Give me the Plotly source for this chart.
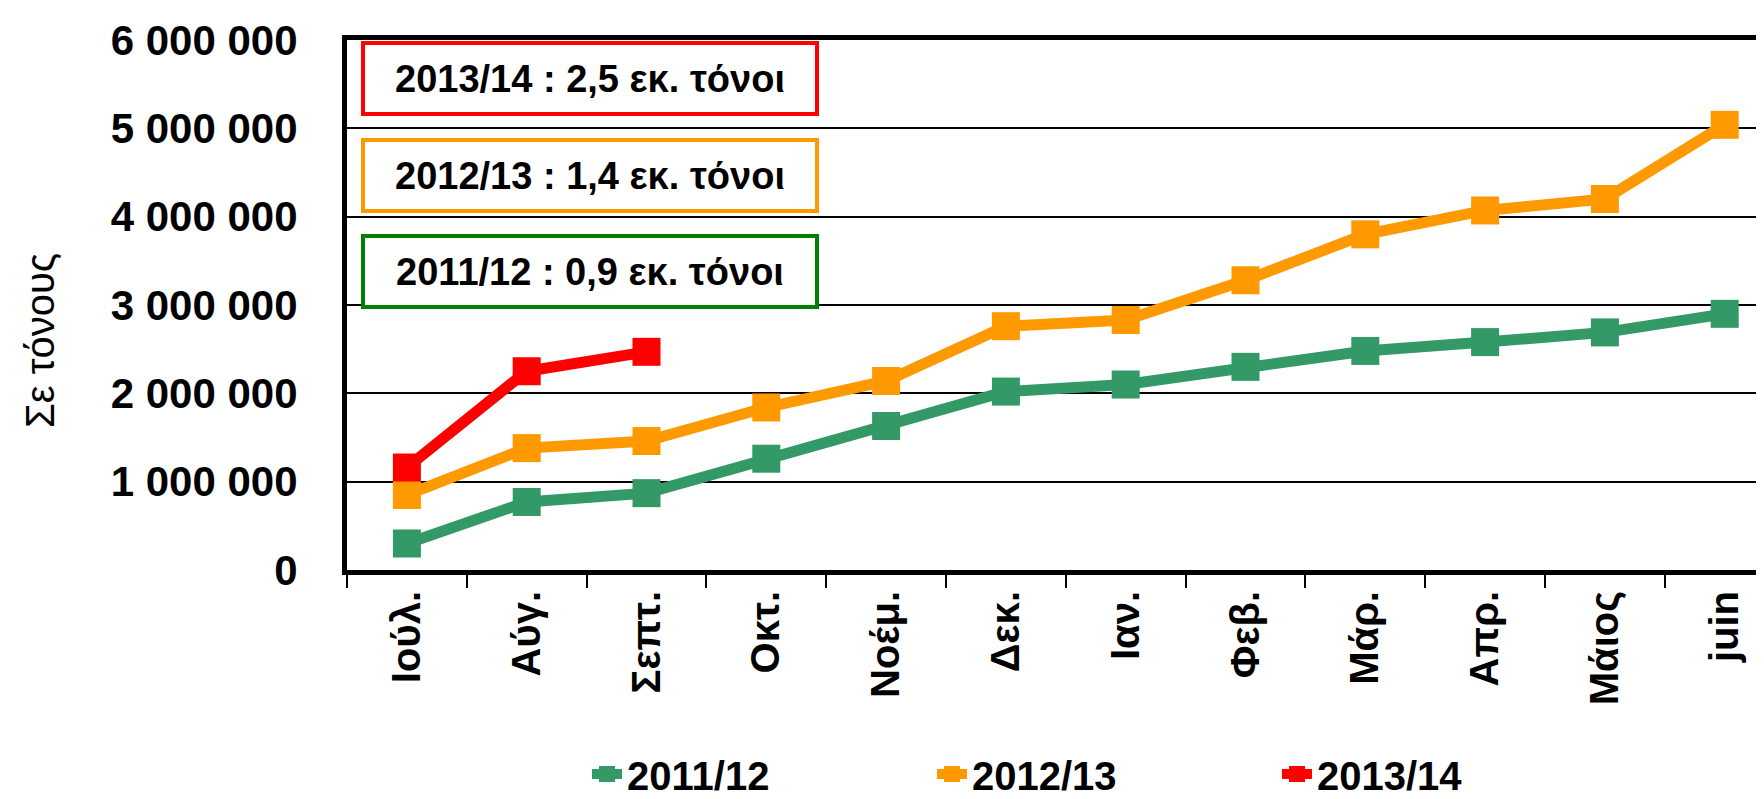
import plotly.graph_objects as go

months = ["Ιούλ.", "Αύγ.", "Σεπτ.", "Οκτ.", "Νοέμ.", "Δεκ.", "Ιαν.", "Φεβ.", "Μάρ.", "Απρ.", "Μάιος", "juin"]
s_2011 = [300000, 770000, 870000, 1260000, 1630000, 2020000, 2100000, 2300000, 2480000, 2580000, 2690000, 2900000]
s_2012 = [850000, 1380000, 1460000, 1840000, 2140000, 2760000, 2830000, 3280000, 3800000, 4070000, 4200000, 5040000]
s_2013 = [1160000, 2250000, 2470000]
series_names = ["2011/12", "2012/13", "2013/14"]
series_colors = ["#339966", "#FF9900", "#FF0000"]
box_texts = ["2013/14 : 2,5 εκ. τόνοι", "2012/13 : 1,4 εκ. τόνοι", "2011/12 : 0,9 εκ. τόνοι"]
box_colors = ["#FF0000", "#FF9900", "#008000"]
y_ticks = [0, 1000000, 2000000, 3000000, 4000000, 5000000, 6000000]
y_ticktext = ["0", "1 000 000", "2 000 000", "3 000 000", "4 000 000", "5 000 000", "6 000 000"]
y_title = "Σε τόνους"

FONT = "Liberation Sans, Arial, sans-serif"

fig = go.Figure()
for name, vals, col in zip(series_names, [s_2011, s_2012, s_2013], series_colors):
    fig.add_trace(go.Scatter(
        x=months[:len(vals)], y=vals, name=name, mode="lines+markers",
        line=dict(color=col, width=11),
        marker=dict(symbol="square", size=28, color=col),
    ))

W, H = 1764, 799
L, T, B = 339, 32, 237
plot_w = W - L
plot_h = H - T - B
cat_w = 119.8

box_y = [70, 167, 263]
for txt, col, yc in zip(box_texts, box_colors, box_y):
    fig.add_annotation(
        xref="paper", yref="paper",
        x=(353 - L) / plot_w, y=(H - B - yc) / plot_h,
        xanchor="left", yanchor="middle",
        text=txt, showarrow=False, align="center",
        width=442, height=59, borderpad=4, borderwidth=4,
        bordercolor=col, bgcolor="white",
        font=dict(family=FONT, size=38, color="black", weight="bold"),
    )

fig.add_annotation(
    xref="paper", yref="paper",
    x=(32 - L) / plot_w, y=(H - B - 333) / plot_h,
    xanchor="center", yanchor="middle", textangle=-90,
    text=y_title, showarrow=False,
    font=dict(family=FONT, size=40, color="black"),
)

fig.update_xaxes(
    type="category", categoryorder="array", categoryarray=months,
    range=[-0.5, -0.5 + plot_w / cat_w],
    tickson="boundaries", ticks="outside", ticklen=13, tickwidth=2, tickcolor="black",
    showline=True, linewidth=5, linecolor="black", mirror=True,
    showgrid=False, tickangle=-90, ticklabelstandoff=0,
    tickfont=dict(family=FONT, size=40, color="black", weight="bold"),
)
fig.update_yaxes(
    range=[0, 6000000], tickvals=y_ticks, ticktext=y_ticktext,
    showgrid=True, gridcolor="black", gridwidth=2,
    showline=True, linewidth=5, linecolor="black", zeroline=False,
    ticks="", ticklabelstandoff=36,
    tickfont=dict(family=FONT, size=42, color="black", weight="bold"),
)

fig.update_layout(
    width=W, height=H,
    margin=dict(l=L, r=0, t=T, b=B, autoexpand=False),
    plot_bgcolor="white", paper_bgcolor="white",
    showlegend=True,
    legend=dict(
        orientation="h", x=(579 - L) / plot_w, xanchor="left",
        y=(H - B - 766) / plot_h, yanchor="middle",
        entrywidth=300, entrywidthmode="pixels",
        font=dict(family=FONT, size=40, color="black", weight="bold"),
        bgcolor="rgba(0,0,0,0)",
    ),
)

fig.write_html("out.html")
